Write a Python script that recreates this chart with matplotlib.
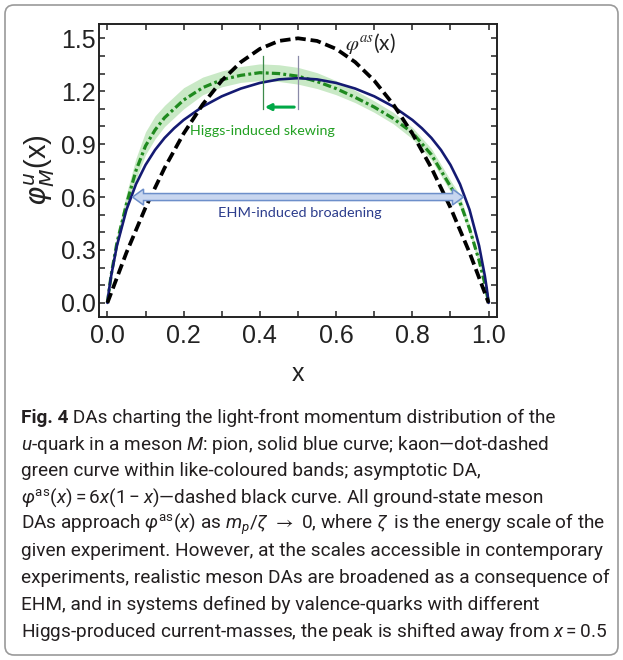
import matplotlib
matplotlib.use('Agg')
import matplotlib.pyplot as plt
import matplotlib.transforms as mtransforms
from matplotlib.patches import FancyBboxPatch
from matplotlib.ticker import MultipleLocator

CAP_FONT = 'Roboto'
plt.rcParams['mathtext.fontset'] = 'custom'
plt.rcParams['mathtext.rm'] = CAP_FONT
plt.rcParams['mathtext.it'] = CAP_FONT + ':italic'
plt.rcParams['mathtext.bf'] = CAP_FONT + ':bold'
plt.rcParams['mathtext.fallback'] = 'stix'

# ---------------- data ----------------
pion_x = [0, .0025, .005, .01, .025, .05, .075, .1, .125, .15, .175, .2, .25, .3, .35, .4, .45, .5,
          .55, .6, .65, .7, .75, .8, .825, .85, .875, .9, .925, .95, .975, .99, .995, .9975, 1]
pion_y = [0, .044, .084, .154, .324, .528, .673, .782, .867, .935, .990, 1.037, 1.113, 1.171, 1.215, 1.247, 1.267, 1.274,
          1.267, 1.247, 1.215, 1.171, 1.113, 1.037, .990, .935, .867, .782, .673, .528, .324, .154, .084, .044, 0]

asym_x = [0, .05, .1, .15, .2, .25, .3, .35, .4, .45, .5, .55, .6, .65, .7, .75, .8, .85, .9, .95, 1]
asym_y = [0, .285, .54, .765, .96, 1.125, 1.26, 1.365, 1.44, 1.485, 1.5, 1.485, 1.44, 1.365, 1.26, 1.125, .96, .765, .54, .285, 0]

kaon_x = [0, .01, .025, .05, .075, .1, .125, .15, .2, .25, .3, .35, .4, .45, .5, .55, .6, .65, .7, .75, .8, .85, .9, .925, .95, .975, .99, 1]
kaon_y = [0, .16, .34, .56, .75, .89, .98, 1.05, 1.15, 1.22, 1.265, 1.29, 1.305, 1.30, 1.285, 1.255, 1.215, 1.165, 1.11, 1.045, .965, .84, .66, .57, .42, .24, .11, 0]
kaon_lo = [0, .15, .32, .52, .70, .84, .93, 1.00, 1.10, 1.18, 1.225, 1.25, 1.26, 1.255, 1.24, 1.215, 1.18, 1.135, 1.08, 1.015, .93, .81, .63, .54, .39, .22, .10, 0]
kaon_hi = [0, .17, .38, .62, .82, .97, 1.06, 1.12, 1.22, 1.28, 1.315, 1.34, 1.355, 1.35, 1.335, 1.305, 1.26, 1.205, 1.145, 1.08, .995, .875, .695, .61, .44, .26, .12, 0]

x_ticks = [0.0, 0.2, 0.4, 0.6, 0.8, 1.0]
y_ticks = [0.0, 0.3, 0.6, 0.9, 1.2, 1.5]

# annotation positions (data units)
skew_from, skew_to, skew_y = 0.49, 0.413, 1.11
vline_left, vline_right = 0.407, 0.5
broad_left, broad_right, broad_y = 0.066, 0.934, 0.6

caption_bold = 'Fig. 4'
caption = [
    r' DAs charting the light-front momentum distribution of the',
    r'$\it{u}$-quark in a meson $\it{M}$: pion, solid blue curve; kaon—dot-dashed',
    r'green curve within like-coloured bands; asymptotic DA,',
    r'$\varphi^{\rm as}(x) = 6x(1 - x)$—dashed black curve. All ground-state meson',
    r'DAs approach $\varphi^{\rm as}(x)$ as $m_p/\zeta\ \rightarrow\ 0$, where $\zeta\,$ is the energy scale of the',
    r'given experiment. However, at the scales accessible in contemporary',
    r'experiments, realistic meson DAs are broadened as a consequence of',
    r'EHM, and in systems defined by valence-quarks with different',
    r'Higgs-produced current-masses, the peak is shifted away from $x = 0.5$',
]

# ---------------- figure ----------------
W, H = 623, 660
fig = plt.figure(figsize=(W / 100, H / 100), dpi=100)
fig.patch.set_facecolor('white')
ax = fig.add_axes([99 / W, 1 - 317 / H, (497 - 99) / W, (317 - 24) / H])

ax.fill_between(kaon_x, kaon_lo, kaon_hi, color='#a6dba0', alpha=0.6, lw=0, zorder=1)
ax.plot(kaon_x, kaon_y, color='#1f8a1f', lw=2.3, dashes=(2.6, 1.0, 0.9, 1.0), zorder=3)
ax.plot(pion_x, pion_y, color='#141a72', lw=1.9, zorder=4, solid_capstyle='round')
ax.plot(asym_x, asym_y, color='black', lw=2.7, dashes=(2.8, 1.3), zorder=5)

ax.set_xlim(-0.022, 1.022)
ax.set_ylim(-0.080, 1.581)
ax.set_xticks(x_ticks)
ax.set_yticks(y_ticks)
ax.xaxis.set_minor_locator(MultipleLocator(0.1))
ax.yaxis.set_minor_locator(MultipleLocator(0.1))
ax.set_xticklabels([f'{v:.1f}' for v in x_ticks])
ax.set_yticklabels([f'{v:.1f}' for v in y_ticks])
ax.tick_params(which='both', direction='in', top=True, right=True, length=4, width=1.1, color='#222222')
ax.tick_params(axis='x', which='major', labelsize=18, pad=5, labelcolor='#222222')
ax.tick_params(axis='y', which='major', labelsize=18, pad=2, labelcolor='#222222')
for lab in ax.get_xticklabels() + ax.get_yticklabels():
    lab.set_family('Liberation Sans')
for s in ax.spines.values():
    s.set_linewidth(1.4)
    s.set_color('#222222')

ax.set_xlabel('x', family='Liberation Sans', fontsize=18, color='#222222', labelpad=10)
ax.set_ylabel(r'$\varphi_M^u$(x)', family='Liberation Sans', fontsize=21, color='#222222',
              math_fontfamily='dejavusans', labelpad=3)

# skewing marks
ax.plot([vline_left, vline_left], [1.10, 1.40], color='#3d8a4a', lw=0.9, zorder=6)
ax.plot([vline_right, vline_right], [1.10, 1.40], color='#8a8aa8', lw=0.9, zorder=6)
ax.annotate('', xy=(skew_to, skew_y), xytext=(skew_from, skew_y),
            arrowprops=dict(arrowstyle='-|>,head_length=0.35,head_width=0.18', color='#00a846',
                            lw=2.2, shrinkA=0, shrinkB=0), zorder=7)

# block double arrow
px_x = 381.7
px_y = 176.3
hb, hh, hl = 3.5 / px_y, 8.0 / px_y, 11.0 / px_x
L, R, yc = broad_left, broad_right, broad_y
arr_x = [L, L + hl, L + hl, R - hl, R - hl, R, R - hl, R - hl, L + hl, L + hl, L]
arr_y = [yc, yc + hh, yc + hb, yc + hb, yc + hh, yc, yc - hh, yc - hb, yc - hb, yc - hh, yc]
ax.fill(arr_x, arr_y, facecolor='#c8d6ef', edgecolor='#6d8fca', lw=1.1, zorder=6)

renderer = fig.canvas.get_renderer()


def fit(t, target):
    w = t.get_window_extent(renderer).width
    t.set_fontsize(t.get_fontsize() * target / w)


t1 = ax.text(0.406, 0.975, 'Higgs-induced skewing', color='#22a022', family='Lato', fontsize=13,
             ha='center', va='center', zorder=8)
fit(t1, 144)
t2 = ax.text(0.505, 0.507, 'EHM-induced broadening', color='#2b3c8c', family='Lato', fontsize=13,
             ha='center', va='center', zorder=8)
fit(t2, 162)
ax.text(0.622, 1.47, r'$\varphi^{as}$(x)', color='#222222', family='Lato', fontsize=15,
        math_fontfamily='stix', ha='left', va='center', zorder=8)

# caption
y0, dy, x0 = 418, 26.7, 21
size = 14


def build(size):
    objs = []
    tb = fig.text(x0 / W, 1 - y0 / H, caption_bold, family=CAP_FONT, fontweight='bold', fontsize=size,
                  color='#231f20', ha='left', va='center')
    objs.append(tb)
    wb = tb.get_window_extent(renderer).width
    for i, line in enumerate(caption):
        xx = x0 + (wb if i == 0 else 0)
        t = fig.text(xx / W, 1 - (y0 + i * dy) / H, line, family=[CAP_FONT, 'DejaVu Sans'], fontsize=size,
                     color='#231f20', ha='left', va='center')
        objs.append(t)
    return objs


objs = build(size)
w6 = objs[6].get_window_extent(renderer).width
for o in objs:
    o.remove()
objs = build(size * 584 / w6)

# rounded frame
frame = FancyBboxPatch((5, 5), 613, 650, boxstyle='round,pad=0,rounding_size=9',
                       transform=mtransforms.IdentityTransform(), fill=False,
                       edgecolor='#9a9a9a', lw=1.2)
fig.patches.append(frame)

fig.savefig('out.png', dpi=100)
